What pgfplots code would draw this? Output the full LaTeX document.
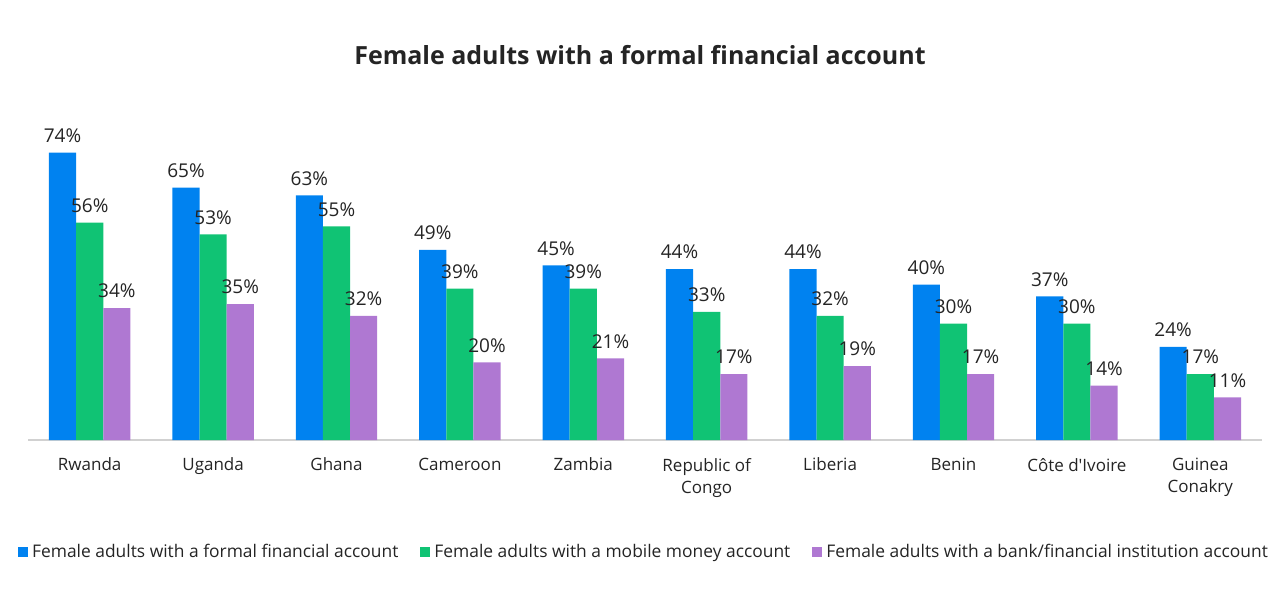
\documentclass[border=0pt]{standalone}
\usepackage{pgfplots}
\pgfplotsset{compat=1.18}
\usepackage{fontspec}
\setmainfont{Open Sans}
\definecolor{cblue}{RGB}{0,130,240}
\definecolor{cgreen}{RGB}{16,195,116}
\definecolor{cpurple}{RGB}{175,120,210}
\definecolor{ctext}{RGB}{36,36,36}
\begin{document}
\begin{tikzpicture}
\path[use as bounding box] (-14pt,-78pt) rectangle (626pt,220pt);
\begin{axis}[
  at={(0pt,0pt)}, anchor=south west,
  scale only axis, width=617pt, height=165pt,
  ybar=0pt, bar width=0.22,
  xmin=-0.5, xmax=9.5, ymin=0, ymax=85,
  axis x line*=bottom, axis y line=none,
  x axis line style={draw=black!18, line width=0.6pt, -},
  xtick={0,...,9},
  xticklabels={Rwanda,Uganda,Ghana,Cameroon,Zambia,{Republic of\\Congo},Liberia,Benin,{Côte d\textquotesingle Ivoire},{Guinea\\Conakry}},
  xticklabel style={font=\fontsize{8.5}{11}\selectfont, text=ctext, align=center, anchor=north, yshift=-5.5pt},
  major tick length=0pt,
  clip=false,
  /pgf/number format/assume math mode=true,
  nodes near coords={\pgfmathprintnumber{\pgfplotspointmeta}\%},
  nodes near coords style={font=\fontsize{9.5}{11}\selectfont, text=ctext, anchor=south, yshift=1.5pt},
  every axis plot/.append style={draw=none},
  legend style={at={(0.5,-0.34)}, anchor=center, draw=none, fill=none,
    legend columns=3, font=\fontsize{8.7}{10}\selectfont, text=ctext,
    /tikz/every even column/.append style={column sep=9pt},
    inner sep=0pt},
  legend cell align=left,
  legend image code/.code={\fill[#1] (0pt,-2.6pt) rectangle (5pt,2.4pt);},
]
\addplot[fill=cblue] coordinates {(0,74) (1,65) (2,63) (3,49) (4,45) (5,44) (6,44) (7,40) (8,37) (9,24)};
\addplot[fill=cgreen] coordinates {(0,56) (1,53) (2,55) (3,39) (4,39) (5,33) (6,32) (7,30) (8,30) (9,17)};
\addplot[fill=cpurple] coordinates {(0,34) (1,35) (2,32) (3,20) (4,21) (5,17) (6,19) (7,17) (8,14) (9,11)};
\legend{Female adults with a formal financial account,Female adults with a mobile money account,Female adults with a bank/financial institution account}
\end{axis}
\node[font=\bfseries\fontsize{12.5}{14}\selectfont, text=ctext] at (306pt,192.5pt) {Female adults with a formal financial account};
\end{tikzpicture}
\end{document}
